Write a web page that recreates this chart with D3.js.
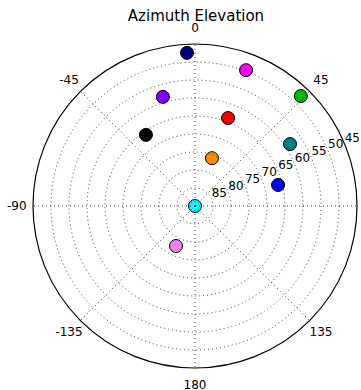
<!DOCTYPE html>
<html>
<head>
<meta charset="utf-8">
<script src="https://cdn.jsdelivr.net/npm/d3@7"></script>
<style>
  body { margin: 0; background: #fff; }
  svg { display: block; font-family: "DejaVu Sans", sans-serif; }
</style>
</head>
<body>
<div id="chart"></div>
<script>
// satellites: azimuth (deg, clockwise from north) and elevation (deg)
var azimuth   = [-3, 20.6, 43.9, -16.4, 20.6, -34.6, 56.9, 19.5, 75.8, 0, -154.6];
var elevation = [47.4, 49.7, 47.6, 58.4, 63.9, 66, 58.5, 75.9, 66.2, 90, 77.7];
var colors = ["#000080", "#ff00ff", "#00bb00", "#8000ff", "#ff0000", "#000000",
              "#008080", "#ff8c00", "#0000ff", "#00ffff", "#ee82ee"];

var thetaTicks = [0, 45, 90, 135, 180, -135, -90, -45];
var rTicks = [85, 80, 75, 70, 65, 60, 55, 50, 45];

var width = 361, height = 390;
var cx = 195, cy = 206, radius = 162;

var svg = d3.select("#chart").append("svg")
  .attr("width", width)
  .attr("height", height);

// elevation 90 at the centre, 45 on the outer circle
var r = d3.scaleLinear().domain([90, 45]).range([0, radius]);
var toRad = function (d) { return d * Math.PI / 180; };
function px(az, el) { return cx + r(el) * Math.sin(toRad(az)); }
function py(az, el) { return cy - r(el) * Math.cos(toRad(az)); }

// title
svg.append("text")
  .attr("x", cx + 1)
  .attr("y", 21)
  .attr("text-anchor", "middle")
  .attr("font-size", 15)
  .text("Azimuth Elevation");

var plot = svg.append("g");

// markers first, grid goes over them like the original
plot.selectAll(".sat")
  .data(azimuth)
  .enter()
  .append("circle")
  .attr("class", "sat")
  .attr("cx", function (az, i) { return px(az, elevation[i]); })
  .attr("cy", function (az, i) { return py(az, elevation[i]); })
  .attr("r", 6.5)
  .attr("fill", function (_, i) { return colors[i]; })
  .attr("stroke", "#000")
  .attr("stroke-width", 1);

// dotted rings
plot.selectAll(".ring")
  .data(rTicks.filter(function (d) { return d !== 45; }))
  .enter()
  .append("circle")
  .attr("class", "ring")
  .attr("cx", cx)
  .attr("cy", cy)
  .attr("r", function (d) { return r(d); })
  .attr("fill", "none")
  .attr("stroke", "#000")
  .attr("stroke-width", 0.75)
  .attr("stroke-dasharray", "1,3");

// dotted spokes
plot.selectAll(".spoke")
  .data(thetaTicks)
  .enter()
  .append("line")
  .attr("class", "spoke")
  .attr("x1", cx)
  .attr("y1", cy)
  .attr("x2", function (d) { return px(d, 45); })
  .attr("y2", function (d) { return py(d, 45); })
  .attr("stroke", "#000")
  .attr("stroke-width", 0.75)
  .attr("stroke-dasharray", "1,3");

// outer circle
plot.append("circle")
  .attr("cx", cx)
  .attr("cy", cy)
  .attr("r", radius)
  .attr("fill", "none")
  .attr("stroke", "#000")
  .attr("stroke-width", 1.2);

// angle labels at 1.1 * radius
plot.selectAll(".thetaLabel")
  .data(thetaTicks)
  .enter()
  .append("text")
  .attr("class", "thetaLabel")
  .attr("x", function (d) { return cx + radius * 1.1 * Math.sin(toRad(d)); })
  .attr("y", function (d) { return cy - radius * 1.1 * Math.cos(toRad(d)); })
  .attr("dy", "0.36em")
  .attr("text-anchor", "middle")
  .attr("font-size", 12)
  .text(function (d) { return d; });

// elevation labels along 67.5 deg azimuth
plot.selectAll(".rLabel")
  .data(rTicks)
  .enter()
  .append("text")
  .attr("class", "rLabel")
  .attr("x", function (d) { return px(67.5, d); })
  .attr("y", function (d) { return py(67.5, d) - 2.5; })
  .attr("text-anchor", "start")
  .attr("font-size", 12)
  .text(function (d) { return d; });
</script>
</body>
</html>
